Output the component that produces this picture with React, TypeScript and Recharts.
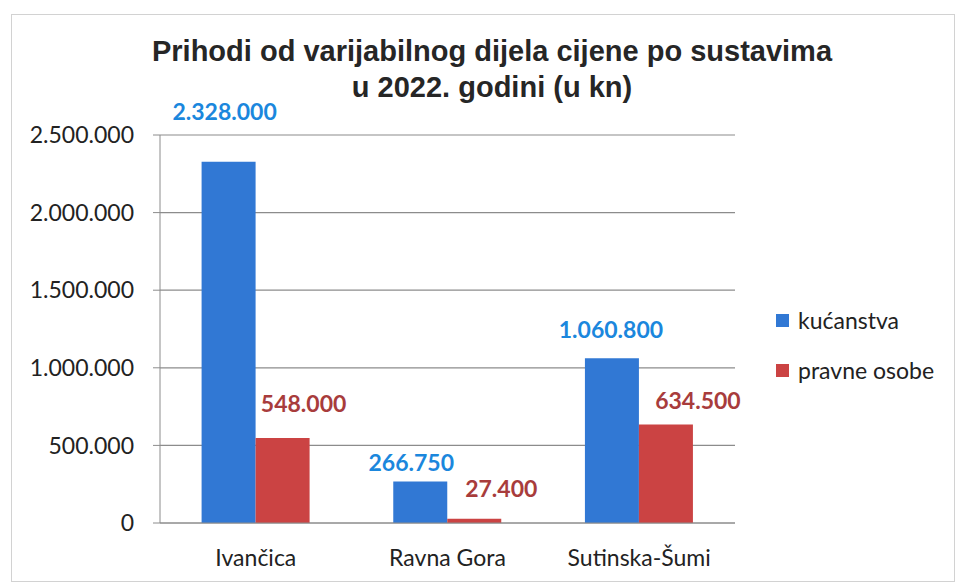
import React from 'react';
import { BarChart, Bar, XAxis, YAxis, CartesianGrid, Legend, LabelList } from 'recharts';

// values
const categories = ['Ivančica', 'Ravna Gora', 'Sutinska-Šumi'];
const kucanstva = [2328000, 266750, 1060800];
const pravneOsobe = [548000, 27400, 634500];
const yTicks = [0, 500000, 1000000, 1500000, 2000000, 2500000];

const data = categories.map((name, i) => ({
  name,
  kucanstva: kucanstva[i],
  pravne: pravneOsobe[i],
}));

// label nudges (Excel had them moved by hand): [dx, dy] from bar top centre
const kucLabelNudge = [[-4, -51], [-9, -20], [-1, -29]];
const pravLabelNudge = [[21, -35], [27, -31], [32, -25]];

const BLUE = '#3178d4';
const RED = '#cb4343';
const BLUE_TXT = '#1b87dd';
const RED_TXT = '#a83c3c';
const GRID = '#8c8c8c';
const FONT = 'Lato, "Open Sans", sans-serif';

const fmt = (v: number) => String(v).replace(/\B(?=(\d{3})+(?!\d))/g, '.');

const makeLabel = (nudge: number[][], color: string) => (props: any) => {
  const { x, y, width, value, index } = props;
  const [dx, dy] = nudge[index] || [0, -20];
  return (
    <text
      x={Number(x) + Number(width) / 2 + dx}
      y={Number(y) + dy}
      textAnchor="middle"
      dominantBaseline="central"
      fill={color}
      fontFamily={FONT}
      fontWeight={700}
      fontSize={23}
    >
      {fmt(value)}
    </text>
  );
};

const renderLegend = () => (
  <div style={{ fontFamily: FONT, fontSize: 23, color: '#222' }}>
    {[
      { label: 'kućanstva', color: BLUE },
      { label: 'pravne osobe', color: RED },
    ].map((it, i) => (
      <div key={it.label} style={{ display: 'flex', alignItems: 'center', height: 30, marginBottom: i === 0 ? 20 : 0 }}>
        <span style={{ display: 'inline-block', width: 13, height: 13, background: it.color, marginRight: 9 }} />
        <span>{it.label}</span>
      </div>
    ))}
  </div>
);

const App = () => {
  return (
    <div style={{ position: 'absolute', left: 0, top: 0, width: 958, height: 585, background: '#fff', overflow: 'hidden' }}>
      <div style={{ position: 'absolute', left: 11, top: 14, width: 942, height: 566, border: '1px solid #d2d2d2' }} />
      <div
        style={{
          position: 'absolute',
          left: 0,
          top: 33,
          width: 984,
          textAlign: 'center',
          fontFamily: '"Liberation Sans", Arial, sans-serif',
          fontWeight: 700,
          fontSize: 29,
          lineHeight: '36px',
          color: '#262626',
        }}
      >
        Prihodi od varijabilnog dijela cijene po sustavima
        <br />
        u 2022. godini (u kn)
      </div>
      <div style={{ position: 'absolute', left: 0, top: 0 }}>
        <BarChart
          width={958}
          height={585}
          data={data}
          margin={{ top: 135, right: 223, bottom: 22, left: 0 }}
          barCategoryGap="21.7%"
          barGap={0}
        >
          <CartesianGrid vertical={false} stroke={GRID} strokeWidth={1.2} />
          <XAxis
            xAxisId="edges"
            type="number"
            domain={[0, 3]}
            ticks={[0, 1, 2, 3]}
            tick={false}
            axisLine={false}
            tickLine={{ stroke: GRID }}
            tickSize={7}
            height={0}
          />
          <XAxis
            dataKey="name"
            tickLine={false}
            axisLine={{ stroke: GRID }}
            tickSize={0}
            tickMargin={27}
            height={40}
            tick={{ fontFamily: FONT, fontSize: 23, fill: '#222' }}
          />
          <YAxis
            width={160}
            domain={[0, 2500000]}
            ticks={yTicks}
            tickFormatter={fmt}
            axisLine={{ stroke: GRID }}
            tickLine={{ stroke: GRID }}
            tickSize={7}
            tickMargin={19}
            tick={{ fontFamily: FONT, fontSize: 23, fill: '#222' }}
          />
          <Legend
            layout="vertical"
            align="center"
            verticalAlign="middle"
            content={renderLegend}
            wrapperStyle={{ position: 'absolute', left: 776, top: 305, width: 180 }}
          />
          <Bar dataKey="kucanstva" name="kućanstva" fill={BLUE} isAnimationActive={false}>
            <LabelList dataKey="kucanstva" content={makeLabel(kucLabelNudge, BLUE_TXT)} />
          </Bar>
          <Bar dataKey="pravne" name="pravne osobe" fill={RED} isAnimationActive={false}>
            <LabelList dataKey="pravne" content={makeLabel(pravLabelNudge, RED_TXT)} />
          </Bar>
        </BarChart>
      </div>
    </div>
  );
};

export default App;
